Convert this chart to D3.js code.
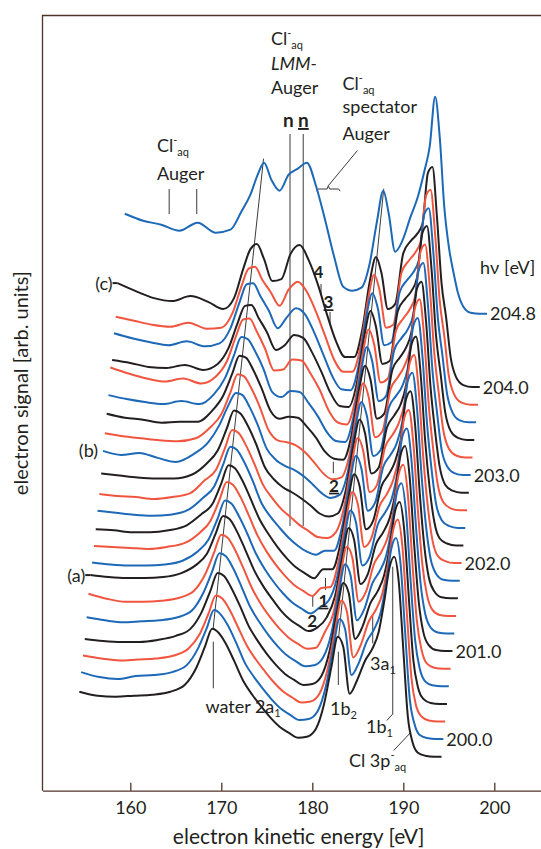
<!DOCTYPE html>
<html>
<head>
<meta charset="utf-8">
<script src="https://cdn.jsdelivr.net/npm/d3@7"></script>
<style>
  body { margin: 0; background: #fff; }
  svg text { font-family: Lato, 'Open Sans', sans-serif; fill: #231f20; }
</style>
</head>
<body>
<svg id="chart" width="541" height="849"></svg>
<script>
// photon energy of each trace, bottom to top [eV]
const photonEnergies = [199.8, 200.0, 200.2, 200.4, 200.6, 200.8, 201.0, 201.2, 201.4, 201.6, 201.8,
  202.0, 202.2, 202.4, 202.6, 202.8, 203.0, 203.2, 203.4, 203.6, 203.8, 204.0, 204.8]
// sampling grid of every trace, binding energy = hv - kinetic energy [eV]
const bindingEnergies = [45.4, 43.4, 41.4, 39.4, 37.4, 35.4, 33.8, 32.6, 31.6, 30.8, 30.1, 29.3, 28.4,
  27.4, 26.4, 25.4, 24.4, 23.4, 22.4, 21.4, 20.4, 19.4, 18.5, 17.7, 17.0, 16.4, 15.7, 14.9, 14.0, 13.2,
  12.5, 11.9, 11.3, 10.8, 10.3, 9.8, 9.3, 8.8, 8.2, 7.4, 6.4, 5.6]
// signal above each trace's own right-hand level [arb. units]
const spectra = [
  [6.5, 6.1, 6.0, 6.1, 6.2, 6.5, 7.2, 8.8, 11.0, 12.8, 12.4, 11.3, 9.6, 7.6, 6.2, 5.0, 3.9, 3.0, 2.4, 1.9, 2.0, 2.8, 5.3, 9.0, 12.0, 11.0, 6.3, 7.6, 9.6, 10.8, 12.5, 15.5, 19.0, 20.0, 17.5, 10.7, 4.0, 1.5, 0.4, 0.1, 0, 0], // 199.8
  [6.7, 6.2, 6.0, 6.3, 6.4, 6.7, 7.4, 9.0, 11.1, 12.9, 12.5, 11.4, 9.7, 7.6, 6.2, 5.0, 3.9, 3.0, 2.4, 1.9, 2.0, 2.8, 5.3, 9.1, 12.0, 11.0, 6.4, 7.6, 9.8, 11.0, 12.6, 15.5, 19.1, 20.1, 17.5, 10.7, 4.1, 1.6, 0.4, 0.1, 0, 0], // 200.0
  [6.6, 6.3, 6.1, 6.2, 6.3, 6.6, 7.3, 8.7, 10.8, 12.6, 12.3, 11.2, 9.5, 7.6, 6.2, 5.0, 3.9, 3.0, 2.4, 1.9, 2.0, 2.8, 5.3, 9.1, 12.1, 11.0, 6.4, 7.6, 10.0, 11.2, 12.8, 15.6, 19.2, 20.2, 17.5, 10.7, 4.3, 1.6, 0.5, 0.1, 0, 0], // 200.2
  [6.5, 6.3, 6.2, 6.2, 6.4, 6.8, 7.5, 9.1, 11.3, 13.1, 12.8, 11.6, 9.9, 7.8, 6.3, 5.0, 3.9, 3.0, 2.4, 1.9, 2.0, 2.8, 5.3, 9.2, 12.1, 11.1, 6.5, 7.7, 10.1, 11.3, 12.9, 15.6, 19.3, 20.2, 17.4, 10.7, 4.4, 1.7, 0.5, 0.1, 0, 0], // 200.4
  [6.9, 6.6, 6.4, 6.5, 6.6, 6.9, 7.6, 9.3, 11.5, 13.3, 13.0, 11.8, 10.0, 7.9, 6.4, 5.1, 4.0, 3.1, 2.5, 2.0, 2.1, 2.9, 5.3, 9.3, 12.2, 11.1, 6.6, 7.7, 10.3, 11.5, 13.0, 15.7, 19.4, 20.3, 17.4, 10.6, 4.6, 1.8, 0.5, 0.1, 0, 0], // 200.6
  [7.5, 7.0, 6.7, 6.7, 6.8, 7.1, 7.8, 9.4, 11.6, 13.4, 13.1, 11.9, 10.1, 8.0, 6.4, 5.1, 4.0, 3.1, 2.5, 2.0, 2.1, 3.7, 5.5, 9.4, 12.2, 11.1, 6.7, 7.7, 10.5, 11.7, 13.2, 15.7, 19.5, 20.4, 17.4, 10.6, 4.7, 1.9, 0.5, 0.1, 0, 0], // 200.8
  [7.6, 7.4, 7.3, 7.3, 7.4, 7.8, 8.6, 9.7, 11.8, 13.5, 13.2, 12.0, 10.2, 8.1, 6.5, 5.2, 4.0, 3.1, 2.5, 2.0, 2.4, 3.4, 5.5, 9.4, 12.3, 11.1, 6.7, 7.7, 10.7, 11.9, 13.3, 15.7, 19.6, 20.5, 17.4, 10.6, 4.9, 1.9, 0.6, 0.1, 0, 0], // 201.0
  [7.1, 6.9, 6.8, 6.8, 6.9, 7.3, 8.2, 9.4, 11.5, 13.3, 13.0, 11.8, 10.1, 8.0, 6.4, 5.1, 4.0, 3.1, 2.5, 2.0, 2.6, 3.3, 5.5, 9.5, 12.3, 11.1, 6.8, 7.7, 10.9, 12.1, 13.4, 15.8, 19.7, 20.5, 17.3, 10.6, 5.0, 2.0, 0.6, 0.1, 0, 0], // 201.2
  [7.0, 6.9, 6.8, 6.7, 6.9, 7.3, 8.3, 9.5, 11.6, 13.4, 13.1, 11.9, 10.1, 8.0, 6.4, 5.1, 4.0, 3.1, 2.5, 2.0, 2.8, 2.9, 5.5, 9.6, 12.4, 11.2, 6.9, 7.8, 11.0, 12.2, 13.6, 15.8, 19.8, 20.6, 17.3, 10.6, 5.1, 2.1, 0.6, 0.1, 0, 0], // 201.4
  [6.9, 6.8, 6.6, 6.6, 6.8, 7.3, 8.4, 9.4, 11.5, 13.3, 13.0, 11.8, 10.0, 7.9, 6.4, 5.1, 4.0, 3.1, 2.5, 2.0, 2.9, 2.9, 5.5, 9.6, 12.4, 11.2, 6.9, 7.8, 11.2, 12.4, 13.7, 15.8, 19.9, 20.7, 17.3, 10.6, 5.3, 2.1, 0.7, 0.1, 0, 0], // 201.6
  [7.0, 6.8, 6.6, 6.5, 6.6, 7.1, 8.3, 9.4, 11.6, 13.4, 13.1, 11.9, 10.1, 7.8, 6.4, 5.3, 4.3, 3.5, 2.9, 2.6, 3.0, 3.0, 5.5, 9.7, 12.5, 11.2, 7.0, 7.8, 11.4, 12.6, 13.8, 15.9, 20.0, 20.8, 17.3, 10.6, 5.4, 2.2, 0.7, 0.1, 0, 0], // 201.8
  [6.9, 6.7, 6.6, 6.4, 6.6, 7.0, 8.3, 9.3, 11.5, 13.3, 13.0, 11.8, 10.0, 7.8, 6.5, 5.4, 4.6, 3.8, 3.2, 2.6, 2.5, 3.1, 5.6, 9.8, 12.5, 11.2, 7.1, 7.8, 11.6, 12.8, 14.0, 15.9, 20.0, 20.8, 17.2, 10.5, 5.6, 2.3, 0.7, 0.2, 0, 0], // 202.0
  [7.2, 7.0, 6.8, 6.7, 6.7, 7.1, 8.2, 9.5, 11.7, 13.5, 13.2, 12.0, 10.2, 7.8, 6.6, 5.8, 5.3, 4.7, 4.0, 3.2, 2.9, 3.2, 5.6, 9.9, 12.6, 11.2, 7.2, 7.8, 11.8, 13.0, 14.1, 16.0, 20.1, 20.9, 17.2, 10.5, 5.7, 2.4, 0.7, 0.2, 0, 0], // 202.2
  [7.7, 7.3, 7.5, 7.0, 6.6, 7.4, 8.6, 10.3, 12.3, 13.5, 13.3, 12.1, 10.3, 7.9, 6.8, 6.2, 5.8, 5.2, 4.4, 3.5, 3.0, 3.3, 5.6, 9.9, 12.6, 11.2, 7.2, 7.8, 12.0, 13.2, 14.2, 16.0, 20.2, 21.0, 17.2, 10.5, 5.9, 2.4, 0.8, 0.2, 0, 0], // 202.4
  [7.7, 7.4, 7.2, 7.0, 6.9, 7.2, 8.3, 9.6, 11.8, 13.6, 13.4, 12.2, 10.4, 8.0, 7.0, 6.8, 6.5, 5.8, 4.8, 3.7, 3.1, 3.3, 5.6, 10.0, 12.7, 11.3, 7.3, 7.9, 12.1, 13.3, 14.4, 16.0, 20.3, 21.1, 17.2, 10.5, 6.0, 2.5, 0.8, 0.2, 0, 0], // 202.6
  [7.9, 7.5, 7.3, 7.0, 7.1, 7.1, 8.2, 9.7, 11.9, 13.7, 13.5, 12.3, 10.5, 8.2, 7.4, 7.6, 7.5, 6.6, 5.5, 4.1, 3.4, 3.3, 5.7, 10.1, 12.7, 11.3, 7.4, 7.9, 12.3, 13.5, 14.5, 16.1, 20.4, 21.1, 17.1, 10.5, 6.1, 2.6, 0.8, 0.2, 0, 0], // 202.8
  [8.0, 7.6, 7.3, 7.1, 7.4, 7.1, 8.1, 9.7, 12.0, 13.8, 13.6, 12.4, 10.7, 8.3, 7.8, 8.4, 8.3, 7.2, 5.9, 4.3, 3.4, 3.3, 5.7, 10.1, 12.8, 11.3, 7.4, 7.9, 12.5, 13.7, 14.6, 16.1, 20.5, 21.2, 17.1, 10.5, 6.3, 2.6, 0.9, 0.2, 0, 0], // 203.0
  [9.0, 8.4, 7.9, 7.6, 7.9, 7.4, 8.1, 9.6, 12.1, 13.8, 13.9, 12.6, 10.9, 8.7, 8.8, 9.8, 9.7, 8.4, 6.8, 4.7, 3.5, 3.3, 5.7, 10.2, 12.8, 11.3, 7.5, 7.9, 12.7, 13.9, 14.8, 16.1, 20.6, 21.3, 17.1, 10.5, 6.4, 2.7, 0.9, 0.2, 0, 0], // 203.2
  [8.0, 7.7, 7.3, 7.2, 7.5, 7.0, 7.6, 9.2, 11.7, 13.4, 13.5, 12.2, 10.8, 9.0, 9.5, 10.5, 10.2, 8.7, 6.8, 4.7, 3.4, 3.3, 5.7, 10.3, 12.9, 11.3, 7.6, 7.9, 12.9, 14.1, 14.9, 16.2, 20.7, 21.4, 17.1, 10.4, 6.6, 2.8, 0.9, 0.2, 0, 0], // 203.4
  [8.9, 8.4, 8.0, 7.7, 8.1, 7.6, 7.9, 9.4, 12.0, 13.8, 13.9, 12.6, 11.2, 9.4, 10.5, 11.4, 10.8, 9.0, 6.8, 4.6, 3.3, 3.2, 5.7, 10.4, 12.9, 11.4, 7.7, 8.0, 13.0, 14.2, 15.0, 16.2, 20.8, 21.4, 17.0, 10.4, 6.7, 2.9, 1.0, 0.2, 0, 0], // 203.6
  [8.8, 8.4, 8.0, 7.8, 8.2, 7.6, 7.7, 9.1, 11.8, 13.6, 13.8, 12.5, 11.3, 9.9, 11.5, 12.3, 11.3, 9.3, 6.9, 4.5, 3.3, 3.3, 5.8, 10.4, 13.0, 11.4, 7.7, 8.0, 13.2, 14.4, 15.2, 16.3, 20.9, 21.5, 17.0, 10.4, 6.9, 2.9, 1.0, 0.2, 0, 0], // 203.8
  [10.4, 9.6, 8.9, 8.6, 9.1, 8.5, 7.8, 8.9, 11.8, 13.8, 14.3, 12.8, 10.6, 10.8, 13.3, 14.2, 12.7, 10.3, 7.3, 4.6, 3.0, 3.0, 5.8, 10.5, 13.0, 11.4, 7.8, 8.3, 13.4, 14.6, 15.3, 16.3, 21.4, 22.0, 17.0, 10.4, 7.0, 3.0, 1.0, 0.2, 0, 0], // 204.0
  [10.3, 9.6, 9.2, 8.6, 9.4, 8.4, 8.7, 10.5, 12.2, 14.2, 15.4, 13.7, 12.6, 14.2, 14.8, 15.4, 13.1, 9.7, 6.0, 3.0, 2.6, 2.9, 5.3, 9.5, 12.6, 10.3, 6.5, 7.6, 10.0, 12.0, 14.5, 17.0, 22.0, 18.0, 11.0, 7.0, 4.5, 2.4, 1.0, 0.4, 0.3, 0.3] // 204.8
]
const labeledEnergies = [200.0, 201.0, 202.0, 203.0, 204.0, 204.8]
const tagEnergies = [201.0, 202.4, 204.0]
const tagTexts = ['(a)', '(b)', '(c)']
const xTicks = [160, 170, 180, 190, 200]
const traceColors = ['#231f20', '#1d68b7', '#f0563f']

const svg = d3.select('#chart')
const frameColor = '#4e3328'
const x = d3.scaleLinear().domain([150.35, 210]).range([42.5, 585.3])
const y = d3.scaleLinear().domain([0, 77.52]).range([790.7, 15.5])
// vertical stacking of the traces
const offset = d3.scaleLinear().domain([199.8, 204.8]).range([3.4, 47.4])

const points = i => bindingEnergies.map((be, k) => ({
  ke: photonEnergies[i] - be,
  v: offset(photonEnergies[i]) + spectra[i][k]
}))
const line = d3.line().x(d => x(d.ke)).y(d => y(d.v)).curve(d3.curveMonotoneX)

// frame
svg.append('path')
  .attr('d', `M${x(210)},${y(77.52)}H${x(150.35)}V${y(0)}`)
  .attr('fill', 'none').attr('stroke', frameColor).attr('stroke-width', 1.3)
const axis = svg.append('g').attr('transform', `translate(0,${y(0)})`)
  .call(d3.axisBottom(x).tickValues(xTicks).tickSize(-8).tickSizeOuter(0).tickPadding(11))
axis.select('.domain').attr('stroke', frameColor).attr('stroke-width', 1.3)
axis.selectAll('.tick line').attr('stroke', frameColor).attr('stroke-width', 1.3)
axis.selectAll('.tick text').attr('font-size', 18).attr('font-family', null)

svg.append('text')
  .attr('x', x(178.5)).attr('y', 844)
  .attr('text-anchor', 'middle').attr('font-size', 21)
  .text('electron kinetic energy [eV]')
svg.append('text')
  .attr('transform', `translate(28,${(y(0) + y(77.52)) / 2 - 20}) rotate(-90)`)
  .attr('text-anchor', 'middle').attr('font-size', 20)
  .text('electron signal [arb. units]')

// guide lines (kinetic energy, signal)
const guideLines = [
  [[169.12, 10.24], [169.12, 14.9]],
  [[169.1, 16.2], [174.64, 63.2]],
  [[182.86, 10.57], [182.86, 13.9]],
  [[182.9, 15.4], [187.85, 60.2]],
  [[186.64, 14.74], [186.64, 17.57]],
  [[188.18, 7.02], [188.84, 7.67], [188.84, 22.4]],
  [[188.93, 4.01], [190.84, 5.85]],
  [[177.55, 26.47], [177.55, 65.67]],
  [[179.0, 26.47], [179.0, 65.67]],
  [[164.27, 57.67], [164.27, 60.17]],
  [[167.3, 57.67], [167.3, 60.17]],
  [[181.76, 60.5], [184.96, 64.02]],
  [[180.48, 59.95], [180.62, 60.17], [181.62, 60.17], [181.76, 60.5], [181.9, 60.17], [182.9, 60.17], [183.04, 59.95]],
  [[180.96, 49.57], [180.96, 50.67]],
  [[181.95, 46.57], [181.95, 47.87]],
  [[182.31, 31.74], [182.31, 32.9]],
  [[181.45, 20.07], [181.45, 21.27]],
  [[180.05, 18.4], [180.05, 19.57]]
]
const guide = d3.line().x(d => x(d[0])).y(d => y(d[1]))
svg.append('g').selectAll('path').data(guideLines).join('path')
  .attr('d', guide).attr('fill', 'none').attr('stroke', '#3b3b3b').attr('stroke-width', 1)

// traces, top one first so the lower ones sit in front
const order = d3.range(photonEnergies.length).reverse()
svg.append('g').selectAll('path').data(order).join('path')
  .attr('d', i => line(points(i)))
  .attr('fill', 'none')
  .attr('stroke', i => traceColors[i % 3])
  .attr('stroke-width', 2)
  .attr('stroke-linejoin', 'round')

// photon energy labels at the right end of the traces
svg.append('g').selectAll('text').data(labeledEnergies).join('text')
  .attr('x', hv => x(hv - 5.6) + 3)
  .attr('y', hv => {
    const i = photonEnergies.indexOf(hv)
    return y(offset(hv) + spectra[i][spectra[i].length - 1])
  })
  .attr('dy', '0.36em').attr('font-size', 18)
  .text(d3.format('.1f'))

// (a) (b) (c) tags at the left start of the traces
tagEnergies.forEach((hv, t) => {
  const i = photonEnergies.indexOf(hv)
  const x0 = x(hv - bindingEnergies[0])
  const y0 = y(offset(hv) + spectra[i][0])
  svg.append('text').attr('x', x0 - 5).attr('y', y0).attr('dy', '0.36em')
    .attr('text-anchor', 'end').attr('font-size', 18).text(tagTexts[t])
  if (t !== 1) {
    svg.append('line').attr('x1', x0 - 5).attr('x2', x0).attr('y1', y0).attr('y2', y0)
      .attr('stroke', traceColors[i % 3]).attr('stroke-width', 2)
  }
})

// text annotations (kinetic energy, signal)
const notes = [
  { ke: 162.93, u: 63.9, parts: ['Cl', ['-', 'sup'], ['aq', 'sub']] },
  { ke: 162.93, u: 61.1, parts: ['Auger'] },
  { ke: 175.46, u: 74.57, parts: ['Cl', ['-', 'sup'], ['aq', 'sub']] },
  { ke: 175.46, u: 72.07, parts: ['LMM-'], style: 'italic' },
  { ke: 175.46, u: 69.72, parts: ['Auger'] },
  { ke: 176.78, u: 66.37, parts: ['n'], weight: 'bold', size: 19 },
  { ke: 178.43, u: 66.37, parts: ['n'], weight: 'bold', size: 19, underline: true },
  { ke: 183.32, u: 70.07, parts: ['Cl', ['-', 'sup'], ['aq', 'sub']] },
  { ke: 183.32, u: 67.77, parts: ['spectator'] },
  { ke: 183.32, u: 65.07, parts: ['Auger'] },
  { ke: 180.68, u: 51.24, parts: ['4'], weight: 'bold', size: 17, anchor: 'middle' },
  { ke: 181.78, u: 48.24, parts: ['3'], weight: 'bold', size: 17, anchor: 'middle', underline: true },
  { ke: 182.38, u: 29.9, parts: ['2'], weight: 'bold', size: 17, anchor: 'middle', underline: true },
  { ke: 181.23, u: 18.4, parts: ['1'], weight: 'bold', size: 17, anchor: 'middle', underline: true },
  { ke: 180.0, u: 16.4, parts: ['2'], weight: 'bold', size: 17, anchor: 'middle' },
  { ke: 168.25, u: 7.77, parts: ['water 2a', ['1', 'sub']] },
  { ke: 181.95, u: 7.57, parts: ['1b', ['2', 'sub']] },
  { ke: 186.34, u: 12.07, parts: ['3a', ['1', 'sub']] },
  { ke: 185.9, u: 5.77, parts: ['1b', ['1', 'sub']] },
  { ke: 184.03, u: 2.37, parts: ['Cl 3p', ['-', 'sup'], ['aq', 'sub']] },
  { ke: 198.43, u: 51.67, parts: ['hν [eV]'] }
]
notes.forEach(d => {
  const t = svg.append('text')
    .attr('x', x(d.ke)).attr('y', y(d.u))
    .attr('text-anchor', d.anchor || 'start')
    .attr('font-size', d.size || 18)
  if (d.weight) t.attr('font-weight', d.weight)
  if (d.style) t.attr('font-style', d.style)
  if (d.underline) t.attr('text-decoration', 'underline')
  let shift = 0
  d.parts.forEach(p => {
    const [s, kind] = typeof p === 'string' ? [p, ''] : p
    const target = kind === 'sub' ? 4 : kind === 'sup' ? -8 : 0
    t.append('tspan').attr('dy', target - shift)
      .attr('font-size', kind ? 11 : null).text(s)
    shift = target
  })
})
</script>
</body>
</html>
